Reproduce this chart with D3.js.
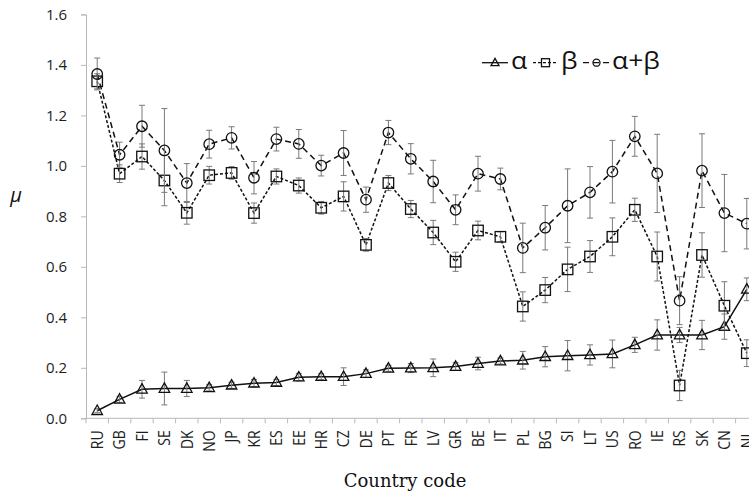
<!DOCTYPE html>
<html>
<head>
<meta charset="utf-8">
<script src="https://cdn.jsdelivr.net/npm/d3@7"></script>
<style>
  html, body { margin: 0; padding: 0; background: #fff; overflow: hidden; }
  svg { display: block; }
</style>
</head>
<body>
<svg id="chart" width="749" height="495"></svg>
<script>
const categories = ["RU","GB","FI","SE","DK","NO","JP","KR","ES","EE","HR","CZ","DE","PT","FR","LV","GR","BE","IT","PL","BG","SI","LT","US","RO","IE","RS","SK","CN","NL"];

const alphaValues = [0.030,0.075,0.115,0.118,0.118,0.121,0.131,0.139,0.142,0.163,0.165,0.165,0.177,0.198,0.199,0.200,0.205,0.217,0.227,0.230,0.244,0.248,0.251,0.255,0.291,0.330,0.330,0.330,0.363,0.511];
const alphaErrors = [0.008,0.012,0.035,0.065,0.032,0.012,0.012,0.015,0.012,0.015,0.012,0.035,0.015,0.012,0.018,0.035,0.015,0.025,0.012,0.035,0.040,0.060,0.040,0.055,0.030,0.060,0.030,0.058,0.050,0.045];

const betaValues = [1.335,0.969,1.037,0.942,0.814,0.963,0.972,0.813,0.958,0.922,0.834,0.879,0.687,0.932,0.829,0.736,0.620,0.744,0.719,0.443,0.508,0.590,0.641,0.719,0.826,0.641,0.130,0.647,0.446,0.258];
const betaErrors = [0.030,0.035,0.050,0.100,0.045,0.035,0.025,0.040,0.030,0.030,0.025,0.058,0.025,0.030,0.034,0.048,0.038,0.037,0.020,0.058,0.050,0.088,0.063,0.075,0.046,0.097,0.060,0.088,0.095,0.053];

const sumValues = [1.364,1.044,1.157,1.061,0.932,1.086,1.111,0.953,1.106,1.087,1.001,1.051,0.866,1.132,1.028,0.938,0.826,0.969,0.948,0.675,0.755,0.842,0.895,0.977,1.117,0.970,0.466,0.981,0.813,0.771];
const sumErrors = [0.063,0.050,0.083,0.166,0.077,0.055,0.044,0.064,0.047,0.057,0.041,0.089,0.050,0.048,0.060,0.084,0.059,0.069,0.043,0.098,0.088,0.146,0.102,0.124,0.079,0.155,0.095,0.146,0.153,0.100];

const yTicks = [0,0.2,0.4,0.6,0.8,1.0,1.2,1.4,1.6];

const seriesList = [
  {name: "α", values: alphaValues, errors: alphaErrors, marker: "triangle", dash: null},
  {name: "β", values: betaValues, errors: betaErrors, marker: "square", dash: "3,2"},
  {name: "α+β", values: sumValues, errors: sumErrors, marker: "circle", dash: "6,4"}
];

const svg = d3.select("#chart");
const plot = {left: 86, right: 758, top: 14.4, bottom: 418.3};

const x = d3.scaleBand().domain(categories).range([plot.left, plot.right]).padding(0);
const y = d3.scaleLinear().domain([0, 1.6]).range([plot.bottom, plot.top]);
const cx = c => x(c) + x.bandwidth() / 2;

const axisColor = "#b8b8b8";
const textColor = "#1e1e1e";

// Y axis
const yAxis = d3.axisLeft(y).tickValues(yTicks).tickFormat(d3.format(".1f")).tickSize(5).tickPadding(14);
const gy = svg.append("g").attr("transform", `translate(${plot.left},0)`).call(yAxis);
gy.select(".domain").attr("stroke", axisColor);
gy.selectAll(".tick line").attr("stroke", axisColor);
gy.selectAll(".tick text").attr("fill", textColor).style("font-family", "'Open Sans', sans-serif").style("font-size", "15px");

// X axis (line + boundary ticks)
const gx = svg.append("g");
gx.append("line").attr("x1", plot.left).attr("x2", plot.right).attr("y1", y(0)).attr("y2", y(0)).attr("stroke", axisColor);
const bounds = categories.map(c => x(c)).concat([x(categories[categories.length-1]) + x.step()]);
gx.selectAll("line.tk").data(bounds).enter().append("line").attr("class","tk")
  .attr("x1", d => d).attr("x2", d => d).attr("y1", y(0)).attr("y2", y(0) + 5).attr("stroke", axisColor);
gx.selectAll("text.lbl").data(categories).enter().append("text").attr("class","lbl")
  .attr("transform", d => `translate(${cx(d)},${y(0) + 12}) rotate(-90) scale(1,1.15)`)
  .attr("text-anchor", "end").attr("dy", "0.36em")
  .attr("fill", textColor)
  .style("font-family", "'Open Sans', sans-serif").style("font-size", "14px")
  .text(d => d);

// Axis titles
svg.append("text").attr("x", 405).attr("y", 487).attr("text-anchor", "middle")
  .style("font-family", "'DejaVu Serif', serif").style("font-size", "18px").attr("fill", "#111")
  .text("Country code");
svg.append("text").attr("x", 16).attr("y", 202).attr("text-anchor", "middle")
  .style("font-family", "'Open Sans', sans-serif").style("font-size", "20px").style("font-style", "italic").attr("fill", "#111")
  .text("μ");

// Marker drawing
function drawMarker(g, type, size) {
  if (type === "circle") {
    g.append("circle").attr("r", size / 2).attr("fill", "none").attr("stroke", "#111").attr("stroke-width", 1.3);
  } else if (type === "square") {
    g.append("rect").attr("x", -size/2).attr("y", -size/2).attr("width", size).attr("height", size)
      .attr("fill", "none").attr("stroke", "#111").attr("stroke-width", 1.3);
  } else {
    const h = size * 0.9, w = size;
    g.append("path").attr("d", `M0,${-h*0.6}L${w/2},${h*0.4}L${-w/2},${h*0.4}Z`)
      .attr("fill", "none").attr("stroke", "#111").attr("stroke-width", 1.3);
  }
}

const line = d3.line().x(d => cx(d.c)).y(d => y(d.v));

seriesList.forEach(s => {
  const pts = categories.map((c, i) => ({c, v: s.values[i], e: s.errors[i]}));
  const g = svg.append("g");
  g.append("path").datum(pts).attr("d", line).attr("fill", "none").attr("stroke", "#111")
    .attr("stroke-width", 1.5).attr("stroke-dasharray", s.dash);
  // error bars
  const eb = g.selectAll("g.eb").data(pts).enter().append("g").attr("class","eb");
  eb.append("line").attr("x1", d => cx(d.c)).attr("x2", d => cx(d.c))
    .attr("y1", d => y(d.v + d.e)).attr("y2", d => y(d.v - d.e)).attr("stroke", "#7a7a7a").attr("stroke-width", 1);
  eb.append("line").attr("x1", d => cx(d.c) - 3).attr("x2", d => cx(d.c) + 3)
    .attr("y1", d => y(d.v + d.e)).attr("y2", d => y(d.v + d.e)).attr("stroke", "#7a7a7a").attr("stroke-width", 1);
  eb.append("line").attr("x1", d => cx(d.c) - 3).attr("x2", d => cx(d.c) + 3)
    .attr("y1", d => y(d.v - d.e)).attr("y2", d => y(d.v - d.e)).attr("stroke", "#7a7a7a").attr("stroke-width", 1);
  // markers
  g.selectAll("g.mk").data(pts).enter().append("g").attr("class","mk")
    .attr("transform", d => `translate(${cx(d.c)},${y(d.v)})`)
    .each(function() { drawMarker(d3.select(this), s.marker, 10.5); });
});

// Legend
const legendItems = [
  {s: seriesList[0], x0: 482, x1: 508, tx: 511},
  {s: seriesList[1], x0: 533, x1: 558, tx: 561},
  {s: seriesList[2], x0: 583, x1: 610, tx: 612}
];
const lg = svg.append("g");
legendItems.forEach(it => {
  const ly = 62.7;
  lg.append("line").attr("x1", it.x0).attr("x2", it.x1).attr("y1", ly).attr("y2", ly)
    .attr("stroke", "#111").attr("stroke-width", 1.3).attr("stroke-dasharray", it.s.dash);
  const mg = lg.append("g").attr("transform", `translate(${(it.x0 + it.x1) / 2},${ly})`);
  drawMarker(mg, it.s.marker, it.s.marker === "circle" ? 7 : 8);
  lg.append("text").attr("x", it.tx).attr("y", 69)
    .attr("transform", `translate(${it.tx},0) scale(1.15,1) translate(${-it.tx},0)`)
    .style("font-family", "'Open Sans', sans-serif").style("font-size", "23px").attr("fill", "#111")
    .text(it.s.name);
});
</script>
</body>
</html>
